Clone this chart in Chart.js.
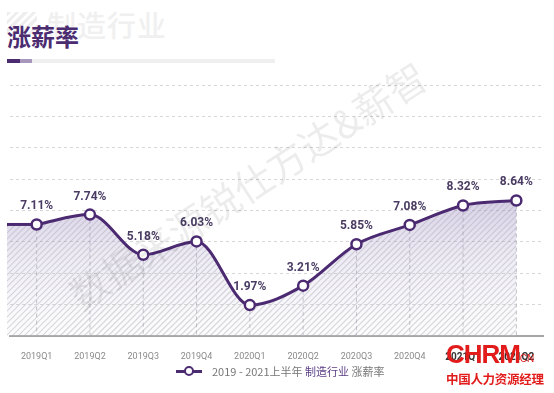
<!DOCTYPE html>
<html>
<head>
<meta charset="utf-8">
<script src="https://cdn.jsdelivr.net/npm/chart.js@4/dist/chart.umd.min.js"></script>
<style>
html,body{margin:0;padding:0;background:#fff;}
#wrap{position:relative;width:554px;height:393px;overflow:hidden;font-family:"Noto Sans CJK SC","Noto Sans",sans-serif;}
#c{position:absolute;left:0;top:0;}
.abs{position:absolute;white-space:nowrap;}
#hatch{left:7px;top:12px;width:30px;height:22px;background:repeating-linear-gradient(135deg,#eeeeee 0 3px,transparent 3px 6px);}
#wm{left:47px;top:3px;font-size:29px;color:#f0f0f0;font-weight:500;letter-spacing:1px;}
#title{left:7px;top:18px;font-size:24px;font-weight:700;color:#4b2c71;}
#bar{left:7px;top:59px;width:268px;height:4px;background:#efefef;}
#bar1{left:7px;top:59px;width:13px;height:4px;background:#4b2c71;}
#bar2{left:20px;top:59px;width:12px;height:4px;background:#a797bd;}
#legend{left:176px;top:363px;font-size:11px;color:#777;display:flex;align-items:center;font-family:"Noto Sans CJK SC",sans-serif;}
#legend .icon{position:relative;width:26px;height:12px;margin-right:10px;}
#legend .icon .ln{position:absolute;left:0;top:5px;width:26px;height:3px;background:#4b2c71;}
#legend .icon .pt{position:absolute;left:8px;top:1px;width:6px;height:6px;border:2px solid #4b2c71;background:#fff;border-radius:50%;}
#logo1{left:446px;top:339px;font-family:"Liberation Sans",Arial,sans-serif;font-weight:900;font-size:26px;color:#e21b1b;letter-spacing:-1px;}
#logo2{left:517px;top:353px;font-family:"Liberation Sans",Arial,sans-serif;font-size:10px;color:#e21b1b;}
#logo3{left:446px;top:369px;font-size:12.5px;color:#e21b1b;font-weight:700;letter-spacing:-0.3px;}
</style>
</head>
<body>
<div id="wrap">
  <div class="abs" id="hatch"></div>
  <div class="abs" id="wm">制造行业</div>
  <div class="abs" id="title">涨薪率</div>
  <div class="abs" id="bar"></div>
  <div class="abs" id="bar1"></div>
  <div class="abs" id="bar2"></div>
  <canvas id="c" width="554" height="393"></canvas>
  <div class="abs" id="legend"><span class="icon"><span class="ln"></span><span class="pt"></span></span><span>2019 - 2021上半年&nbsp;<span style="color:#5a3d85">制造行业</span>&nbsp;涨薪率</span></div>
  <div class="abs" id="logo1">CHRM</div>
  <div class="abs" id="logo2">.CN</div>
  <div class="abs" id="logo3">中国人力资源经理</div>
</div>
<script>
const categories = ["2019Q1","2019Q2","2019Q3","2019Q4","2020Q1","2020Q2","2020Q3","2020Q4","2021Q1","2021Q2"];
const raiseRate = [7.11, 7.74, 5.18, 6.03, 1.97, 3.21, 5.85, 7.08, 8.32, 8.64];
const yTicks = [0, 2, 4, 6, 8, 10, 12, 14, 16];
const seriesName = "2019 - 2021上半年 制造行业 涨薪率";
const watermarkText = "数据来源锐仕方达&薪智";

const LINE = "#4b2a72";
let fillPattern = null;
function getPattern(chart){
  const a = chart.chartArea;
  if (!a) return null;
  if (fillPattern) return fillPattern;
  const off = document.createElement('canvas');
  off.width = chart.width; off.height = chart.height;
  const g = off.getContext('2d');
  const grad = g.createLinearGradient(0, a.top + 100, 0, a.bottom);
  grad.addColorStop(0, 'rgba(150,130,190,0.45)');
  grad.addColorStop(0.5, 'rgba(190,180,215,0.25)');
  grad.addColorStop(1, 'rgba(240,240,245,0.15)');
  g.fillStyle = grad;
  g.fillRect(0, 0, off.width, off.height);
  g.strokeStyle = 'rgba(160,160,170,0.4)';
  g.lineWidth = 1.2;
  for (let x = -off.height; x < off.width + off.height; x += 6) {
    g.beginPath();
    g.moveTo(x, off.height);
    g.lineTo(x + off.height, 0);
    g.stroke();
  }
  fillPattern = chart.ctx.createPattern(off, 'no-repeat');
  return fillPattern;
}

const extras = {
  id: 'extras',
  beforeDatasetsDraw(chart) {
    const ctx = chart.ctx, a = chart.chartArea;
    const meta = chart.getDatasetMeta(0);
    const p0 = meta.data[0];
    const yBase = chart.scales.y.getPixelForValue(0);
    const left = a.left - 3;
    ctx.save();
    ctx.fillStyle = getPattern(chart);
    ctx.fillRect(left, p0.y, p0.x - left, yBase - p0.y);
    ctx.strokeStyle = 'rgba(175,175,185,0.8)';
    ctx.setLineDash([4, 3]);
    ctx.lineWidth = 1;
    meta.data.forEach(pt => {
      ctx.beginPath(); ctx.moveTo(pt.x, pt.y + 5); ctx.lineTo(pt.x, yBase); ctx.stroke();
    });
    ctx.setLineDash([]);
    ctx.strokeStyle = LINE; ctx.lineWidth = 3;
    ctx.beginPath(); ctx.moveTo(left, p0.y); ctx.lineTo(p0.x, p0.y); ctx.stroke();
    ctx.restore();
  },
  afterDatasetsDraw(chart) {
    const ctx = chart.ctx;
    const meta = chart.getDatasetMeta(0);
    ctx.save();
    ctx.font = 'bold 12px Roboto, "Liberation Sans", sans-serif';
    ctx.fillStyle = '#4a3c63';
    ctx.textAlign = 'center';
    ctx.textBaseline = 'middle';
    meta.data.forEach((pt, i) => {
      ctx.fillText(raiseRate[i].toFixed(2) + '%', pt.x, pt.y - 18);
    });
    ctx.translate(248, 186);
    ctx.rotate(-33 * Math.PI / 180);
    ctx.font = '39px "Noto Sans CJK SC", sans-serif';
    ctx.fillStyle = 'rgba(0,0,0,0.075)';
    ctx.fillText(watermarkText, 0, 0);
    ctx.restore();
  }
};

new Chart(document.getElementById('c'), {
  type: 'line',
  data: {
    labels: categories,
    datasets: [{
      label: seriesName,
      data: raiseRate,
      borderColor: LINE,
      borderWidth: 3,
      cubicInterpolationMode: 'monotone',
      fill: 'origin',
      backgroundColor: (c) => getPattern(c.chart) || 'rgba(150,130,190,0.2)',
      pointRadius: 5,
      pointBorderWidth: 2.5,
      pointBackgroundColor: '#fff',
      pointBorderColor: LINE
    }]
  },
  options: {
    responsive: false,
    animation: false,
    layout: { padding: { left: 10, right: 11, top: 85, bottom: 27 } },
    plugins: { legend: { display: false }, tooltip: { enabled: false } },
    scales: {
      x: {
        offset: true,
        grid: { display: false },
        border: { color: '#a5a5a5', width: 2 },
        ticks: {
          padding: 7,
          font: (c) => ({ size: c.index >= 8 ? 10 : 9, weight: c.index >= 8 ? 'bold' : 'normal', family: 'Roboto, "Liberation Sans", sans-serif' }),
          color: (c) => c.index >= 8 ? '#333' : '#8a8a8a'
        },
        afterFit(s) { s.height = 30; }
      },
      y: {
        min: yTicks[0],
        max: yTicks[yTicks.length - 1],
        afterBuildTicks(s) { s.ticks = yTicks.map(v => ({ value: v })); },
        ticks: { display: false },
        border: { display: false, dash: [3, 3] },
        grid: { color: '#d6d6d6', lineWidth: 1, drawTicks: false },
        afterFit(s) { s.width = 0; }
      }
    }
  },
  plugins: [extras]
});
</script>
</body>
</html>
